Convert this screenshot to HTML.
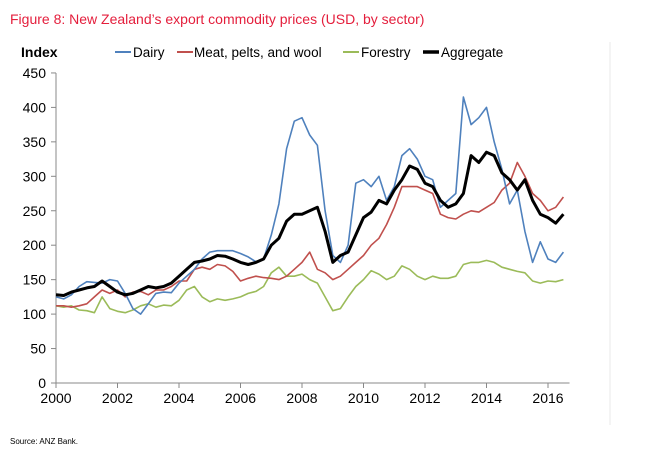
<!DOCTYPE html>
<html><head><meta charset="utf-8"><style>
body{margin:0;background:#fff;width:645px;height:458px;overflow:hidden;font-family:"Liberation Sans",Arial,sans-serif;}
svg text{font-family:"Liberation Sans",Arial,sans-serif;}
</style></head><body>
<svg id="c" width="645" height="458">
<text x="10" y="24" font-size="14" fill="#e41e3c">Figure 8: New Zealand’s export commodity prices (USD, by sector)</text>
<line x1="610" y1="42" x2="610" y2="425" stroke="#e8e8e8"/>
<text x="21" y="57" font-size="14" font-weight="bold" fill="#000">Index</text>
<g id="legend"></g>
<g id="axes"></g>
<g id="series"></g>
<text x="10" y="444" font-size="8" fill="#000">Source: ANZ Bank.</text>
</svg>
<script>
const years=[2000,2002,2004,2006,2008,2010,2012,2014,2016];
const yTicks=[0,50,100,150,200,250,300,350,400,450];
const dairy=[125,122,128,140,147,146,145,150,148,130,108,100,115,130,132,131,145,155,165,180,190,192,192,192,188,183,176,180,215,260,340,380,385,360,345,250,185,175,200,290,295,285,300,265,285,330,340,325,300,295,255,265,275,415,375,385,400,350,310,260,280,220,175,205,180,175,190];
const meat=[112,112,110,112,115,125,135,130,135,125,132,133,128,135,135,140,148,148,165,168,165,172,170,162,148,152,155,153,152,150,155,165,175,190,165,160,150,155,165,175,185,200,210,230,255,285,285,285,280,275,245,240,238,245,250,248,255,262,280,290,320,300,275,265,250,255,270];
const forestry=[112,110,112,106,105,102,125,108,104,102,106,112,115,110,113,112,120,135,140,125,118,122,120,122,125,130,133,140,160,168,155,155,158,150,145,125,105,108,125,140,150,163,158,150,155,170,165,155,150,155,152,152,155,172,175,175,178,175,168,165,162,160,148,145,148,147,150];
const aggregate=[128,127,132,135,138,140,148,140,132,128,130,135,140,138,140,145,155,165,175,177,180,185,184,180,175,172,175,180,200,210,235,245,245,250,255,220,175,185,190,215,240,248,265,260,280,295,315,310,290,285,265,255,260,275,330,320,335,330,305,295,280,295,265,245,240,232,245];
const NS="http://www.w3.org/2000/svg";
const X=t=>56+(t-2000)*30.75;
const Y=v=>383-v*0.689;
function mk(tag,attrs,parent){const e=document.createElementNS(NS,tag);for(const k in attrs)e.setAttribute(k,attrs[k]);parent.appendChild(e);return e;}
const axes=document.getElementById('axes');
let yl=mk('line',{x1:56,y1:Y(450),x2:56,y2:383,stroke:'#888'},axes);


let xl=mk('line',{x1:56,y1:383,x2:X(2016.7),y2:383,stroke:'#888'},axes);


yTicks.forEach(v=>{
 mk('line',{x1:51,y1:Y(v),x2:56,y2:Y(v),stroke:'#888'},axes);
 const t=mk('text',{x:46,y:Y(v)+5,'font-size':14,'text-anchor':'end',fill:'#000'},axes);
 t.textContent=v;
 
 
});
years.forEach(y=>{
 mk('line',{x1:X(y),y1:383,x2:X(y),y2:388,stroke:'#888'},axes);
 const t=mk('text',{x:X(y),y:403,'font-size':14,'text-anchor':'middle',fill:'#000'},axes);
 t.textContent=y;
 
 
});
const ser=document.getElementById('series');
function draw(arr,color,w,name){
 const pts=arr.map((v,i)=>X(2000+i*0.25).toFixed(1)+','+Y(v).toFixed(1)).join(' ');
 const p=mk('polyline',{points:pts,fill:'none',stroke:color,'stroke-width':w,'stroke-linejoin':'round'},ser);
 
 
}
draw(forestry,'#9bbb59',1.6,'forestry-line');
draw(meat,'#c0504d',1.6,'meat-line');
draw(dairy,'#4f81bd',1.6,'dairy-line');
draw(aggregate,'#000',3,'aggregate-line');
const lg=document.getElementById('legend');
[['Dairy','#4f81bd',115,133,2],['Meat, pelts, and wool','#c0504d',177,194,2],['Forestry','#9bbb59',343,361,2],['Aggregate','#000',423,441,3.5]].forEach(e=>{
 const g=mk('g',{},lg);
 
 
 mk('line',{x1:e[2],y1:52,x2:e[2]+16,y2:52,stroke:e[1],'stroke-width':e[4]},g);
 const t=mk('text',{x:e[3],y:57,'font-size':13.5,fill:'#000'},g);
 t.textContent=e[0];
});
</script>
</body></html>
